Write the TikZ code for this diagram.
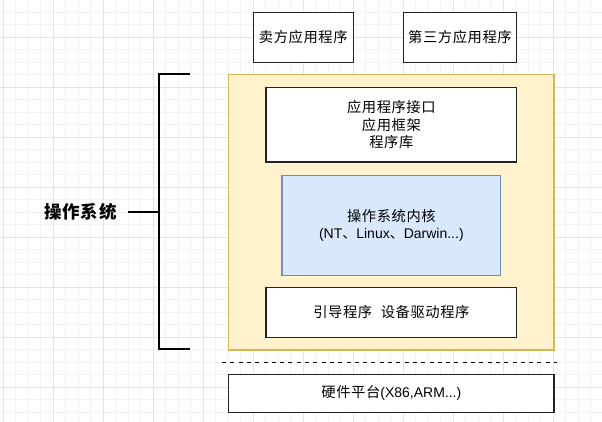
\documentclass[tikz,border=0pt]{standalone}
\usepackage{fontspec}
\setmainfont{Liberation Sans}
\newfontfamily\cjk[LetterSpace=4]{Noto Sans CJK SC}
\definecolor{gridminor}{HTML}{F3F3F3}
\definecolor{gridmajor}{HTML}{E4E4E4}
\definecolor{osfill}{HTML}{FFF2CC}
\definecolor{osdraw}{HTML}{D6B656}
\definecolor{kfill}{HTML}{DAE8FC}
\definecolor{kdraw}{HTML}{6C8EBF}
\definecolor{boxdraw}{HTML}{222222}
\begin{document}
\begin{tikzpicture}[x=1pt,y=-1pt,
  minor/.style={draw=gridminor,line width=0.8pt},
  major/.style={draw=gridmajor,line width=0.9pt},
  box/.style={draw=boxdraw,line width=1.2pt,fill=white,inner sep=0pt,align=center,
    font=\cjk\fontsize{14.3}{17.5}\selectfont},
  bracket/.style={draw=black,line width=2.2pt},
  dashline/.style={draw=black,line width=1pt,dash pattern=on 4pt off 4.3pt}]
\useasboundingbox (0,0) rectangle (602,422);
\fill[white] (0,0) rectangle (602,422);
\foreach \i in {0,...,48} \draw[minor] ({3.3+12.5*\i},0) -- ++(0,422);
\foreach \j in {0,...,34} \draw[minor] (0,{-0.2+12.5*\j}) -- ++(602,0);
\foreach \i in {0,...,12} \draw[major] ({3.3+50*\i},0) -- ++(0,422);
\foreach \j in {0,...,9} \draw[major] (0,{37.3+50*\j}) -- ++(602,0);

\node[box,minimum width=100pt,minimum height=50pt] (seller) at (303.3,37.3) {卖方应用程序};
\node[box,minimum width=113.4pt,minimum height=50pt] (third) at (460,37.3) {第三方应用程序};

\node[draw=osdraw,fill=osfill,line width=1.2pt,minimum width=325.3pt,minimum height=275.3pt,inner sep=0pt] (os) at (391.35,212.35) {};
\node[box,minimum width=250.7pt,minimum height=74.7pt] (api) at (391.35,124.65) {应用程序接口\\应用框架\\程序库};
\node[box,draw=kdraw,fill=kfill,minimum width=218.7pt,minimum height=100.3pt] (kernel) at (391.35,225.6) {操作系统内核\\{\rmfamily\fontsize{14}{17.5}\selectfont (NT{\cjk 、}Linux{\cjk 、}Darwin...)}};
\node[box,minimum width=250.7pt,minimum height=50pt] (boot) at (391.35,312.3) {引导程序\hspace{0.6em}设备驱动程序};

\coordinate (dl) at (222,362.3);
\coordinate (dr) at (556.7,362.3);
\draw[dashline] (dl) -- (dr);
\node[box,minimum width=325.3pt,minimum height=38pt] (hw) at (391.35,393.3) {硬件平台{\rmfamily\fontsize{14}{17.5}\selectfont (X86,ARM...)}};

\node[font=\cjk\bfseries\fontsize{17.5}{20}\selectfont,inner sep=0pt] (label) at (80.5,211.7) {操作系统};
\coordinate (bt) at (190,74.3);
\coordinate (bb) at (190,349.3);
\coordinate (tk) at (128,211.7);
\coordinate (bm) at (159,211.7);
\draw[bracket] (bt) -- (159,74.3) -- (159,349.3) -- (bb);
\draw[bracket] (tk) -- (bm);
\end{tikzpicture}
\end{document}
